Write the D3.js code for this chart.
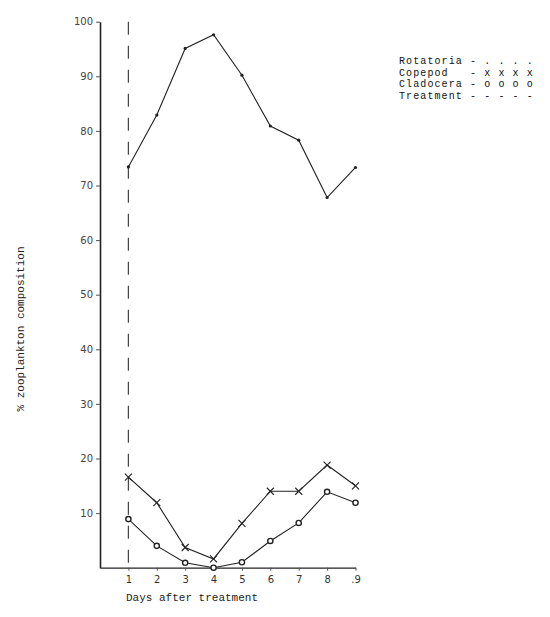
<!DOCTYPE html>
<html>
<head>
<meta charset="utf-8">
<script src="https://cdn.jsdelivr.net/npm/d3@7"></script>
<style>
  body { margin: 0; background: #fff; }
  svg { display: block; }
  .mono { font-family: "Liberation Mono", "DejaVu Sans Mono", monospace; }
</style>
</head>
<body>
<svg width="550" height="617"></svg>
<script>
// days after treatment
var days = [1, 2, 3, 4, 5, 6, 7, 8, 9]
var dayLabels = ["1", "2", "3", "4", "5", "6", "7", "8", ".9"]
var yTicks = [10, 20, 30, 40, 50, 60, 70, 80, 90, 100]

// % composition
var rotatoria = [73.4, 82.9, 95.1, 97.6, 90.2, 80.9, 78.3, 67.8, 73.3]
var copepod   = [16.6, 11.9, 3.7, 1.6, 8.1, 14.0, 14.0, 18.8, 15.0]
var cladocera = [8.9, 4.0, 0.9, 0.0, 1.0, 4.9, 8.2, 13.9, 11.9]
var treatmentDay = 1

var legendLines = ["Rotatoria - . . . .", "Copepod   - x x x x", "Cladocera - o o o o", "Treatment - - - - -"]

var svg = d3.select("svg")
var ink = "#222"

var x = d3.scaleLinear().domain([0, 9]).range([100, 355.5])
var y = d3.scaleLinear().domain([0, 100]).range([567.7, 21.7])

// y axis
var yAxis = svg.append("g")
  .attr("transform", "translate(" + x(0) + ",0)")
  .call(d3.axisLeft(y).tickValues(yTicks).tickSize(4).tickPadding(3).tickSizeOuter(0))
yAxis.select(".domain").attr("stroke", ink).attr("stroke-width", 1.6)
yAxis.selectAll(".tick line").attr("stroke", "#555")
yAxis.selectAll("text")
  .attr("fill", "#444")
  .style("font-family", "'DejaVu Sans', sans-serif")
  .style("font-size", "10px")

// x axis
var xAxis = svg.append("g")
  .attr("transform", "translate(0," + y(0) + ")")
  .call(d3.axisBottom(x).tickValues(days).tickFormat(function (d, i) { return dayLabels[i] })
    .tickSize(3).tickPadding(5).tickSizeOuter(0))
xAxis.select(".domain").attr("stroke", ink).attr("stroke-width", 1.3)
xAxis.selectAll(".tick line").attr("stroke", "#555")
xAxis.selectAll("text")
  .attr("fill", "#333")
  .style("font-family", "'DejaVu Sans', sans-serif")
  .style("font-size", "10px")

// treatment line
svg.append("line")
  .attr("x1", x(treatmentDay)).attr("x2", x(treatmentDay))
  .attr("y1", y(100)).attr("y2", y(0))
  .attr("stroke", "#444")
  .attr("stroke-width", 1.2)
  .attr("stroke-dasharray", "13,11")

var line = d3.line()
  .x(function (d, i) { return x(days[i]) })
  .y(function (d) { return y(d) })

function drawSeries(vals, marker) {
  svg.append("path")
    .datum(vals)
    .attr("d", line)
    .attr("fill", "none")
    .attr("stroke", ink)
    .attr("stroke-width", 1.1)

  vals.forEach(function (v, i) {
    var cx = x(days[i]), cy = y(v)
    if (marker == "dot") {
      svg.append("circle").attr("cx", cx).attr("cy", cy).attr("r", 1.6).attr("fill", ink)
    } else if (marker == "x") {
      svg.append("path")
        .attr("d", "M" + (cx - 3.5) + "," + (cy - 3.5) + "L" + (cx + 3.5) + "," + (cy + 3.5) +
                   "M" + (cx + 3.5) + "," + (cy - 3.5) + "L" + (cx - 3.5) + "," + (cy + 3.5))
        .attr("stroke", ink).attr("stroke-width", 1.1)
    } else {
      svg.append("circle").attr("cx", cx).attr("cy", cy).attr("r", 2.6)
        .attr("fill", "#fff").attr("stroke", ink).attr("stroke-width", 1.4)
    }
  })
}

drawSeries(rotatoria, "dot")
drawSeries(copepod, "x")
drawSeries(cladocera, "o")

// axis titles
svg.append("text")
  .attr("class", "mono")
  .attr("x", 126).attr("y", 601)
  .attr("fill", "#222")
  .style("font-size", "11px")
  .text("Days after treatment")

svg.append("text")
  .attr("class", "mono")
  .attr("transform", "translate(24,329) rotate(-90)")
  .attr("text-anchor", "middle")
  .attr("fill", "#222")
  .style("font-size", "11px")
  .text("% zooplankton composition")

// legend
svg.append("g")
  .selectAll("text")
  .data(legendLines)
  .join("text")
    .attr("class", "mono")
    .attr("x", 399)
    .attr("y", function (d, i) { return 64 + i * 11.6 })
    .attr("fill", "#111")
    .style("font-size", "10px")
    .style("letter-spacing", "1.1px")
    .style("white-space", "pre")
    .attr("xml:space", "preserve")
    .text(function (d) { return d })
</script>
</body>
</html>
